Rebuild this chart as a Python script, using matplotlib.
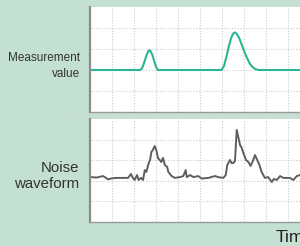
import matplotlib
matplotlib.use("Agg")
import matplotlib.pyplot as plt
from matplotlib.lines import Line2D

# ---- data (grid units) ----
meas_x = [0.0, 2.27, 2.36, 2.45, 2.55, 2.64, 2.70, 2.75, 2.84, 2.93, 3.02, 3.09,
          5.98, 6.09, 6.20, 6.32, 6.43, 6.52, 6.59, 6.68, 6.80, 6.91, 7.02, 7.14,
          7.25, 7.36, 7.50, 7.64, 10.5]
meas_y = [2.0, 2.0, 2.07, 2.31, 2.64, 2.88, 2.95, 2.90, 2.71, 2.38, 2.10, 2.0,
          2.0, 2.19, 2.62, 3.17, 3.57, 3.75, 3.79, 3.71, 3.48, 3.17, 2.86, 2.57,
          2.33, 2.17, 2.05, 2.0, 2.0]

noise_x = [0.0, 0.32, 0.59, 0.73, 0.82, 0.95, 1.14, 1.41, 1.73, 1.86, 1.95, 2.03,
           2.14, 2.21, 2.32, 2.41, 2.49, 2.56, 2.67, 2.73, 2.79, 2.86, 2.94, 3.01,
           3.09, 3.17, 3.24, 3.32, 3.40, 3.51, 3.56, 3.71, 3.86, 4.09, 4.24, 4.35,
           4.40, 4.55, 4.70, 4.92, 5.08, 5.38, 5.68, 5.83, 6.06, 6.17, 6.24, 6.29,
           6.36, 6.44, 6.51, 6.59, 6.67, 6.74, 6.82, 6.90, 6.97, 7.09, 7.20, 7.30,
           7.42, 7.50, 7.60, 7.70, 7.80, 7.95, 8.10, 8.26, 8.36, 8.49, 8.64, 8.79,
           8.94, 9.09, 9.24, 9.40, 9.55, 9.68, 10.0]
noise_y = [2.18, 2.16, 2.23, 2.14, 2.07, 2.11, 2.14, 2.14, 2.14, 2.33, 2.14, 2.04,
           2.28, 2.04, 2.14, 2.04, 2.52, 2.43, 2.86, 3.01, 3.40, 3.50, 3.69, 3.50,
           3.11, 3.01, 2.91, 3.11, 2.77, 2.67, 2.43, 2.23, 2.14, 2.18, 2.23, 2.52,
           2.18, 2.28, 2.18, 2.23, 2.11, 2.14, 2.23, 2.18, 2.14, 2.28, 2.77, 2.86,
           3.01, 2.86, 2.86, 2.96, 4.47, 4.13, 3.74, 3.59, 3.35, 3.01, 2.91, 2.72,
           3.01, 3.25, 3.01, 2.77, 2.43, 2.14, 2.18, 1.94, 2.09, 2.04, 2.23, 2.14,
           2.14, 2.14, 2.04, 2.23, 2.28, 2.18, 2.14]

grid_x = [1, 2, 3, 4, 5, 6, 7, 8, 9]
grid_y = [1, 2, 3, 4]

BG = "#c3e0d3"
W, H = 300, 246
fig = plt.figure(figsize=(W / 100, H / 100), dpi=100, facecolor=BG)


def make_ax(top_px, bottom_px):
    left = 90 / W
    width = (310 - 90) / W
    bottom = 1 - bottom_px / H
    height = (bottom_px - top_px) / H
    ax = fig.add_axes([left, bottom, width, height])
    ax.set_facecolor("white")
    ax.set_xlim(0, 10)
    ax.set_ylim(0, 5)
    ax.set_xticks(grid_x)
    ax.set_yticks(grid_y)
    ax.tick_params(length=0, labelbottom=False, labelleft=False)
    ax.grid(True, color="#cccccc", linestyle=(0, (1, 1.5)), linewidth=0.8)
    for s in ("top", "right"):
        ax.spines[s].set_visible(False)
    ax.spines["left"].set_color("#8c8c8c")
    ax.spines["left"].set_linewidth(1.6)
    ax.spines["bottom"].set_color("#9a9a9a")
    ax.spines["bottom"].set_linewidth(1.0)
    return ax


ax1 = make_ax(7, 112)
ax1.plot(meas_x, meas_y, color="#2bb592", linewidth=1.5, solid_capstyle="round")

ax2 = make_ax(119, 222)
ax2.plot(noise_x, noise_y, color="#5e5e5e", linewidth=1.4)

fig.add_artist(Line2D([72 / W, 1.0], [1 - 117 / H] * 2, transform=fig.transFigure,
                      color="#d8d8d8", linestyle=(0, (1, 1.5)), linewidth=0.8))

fig.text(80 / W, 1 - 66 / H, "Measurement\nvalue", ha="right", va="center",
         fontsize=8.5, family=["Liberation Sans", "DejaVu Sans"],
         color="#333333", linespacing=1.5)
fig.text(79 / W, 1 - 176 / H, "Noise\nwaveform", ha="right", va="center",
         fontsize=10.8, family=["Liberation Sans", "DejaVu Sans"],
         color="#333333", linespacing=1.2)
fig.text(276 / W, 1 - 238 / H, "Time", ha="left", va="center",
         fontsize=12.5, family=["Liberation Sans", "DejaVu Sans"], color="#222222")

fig.savefig("out.png", dpi=100, facecolor=BG)
